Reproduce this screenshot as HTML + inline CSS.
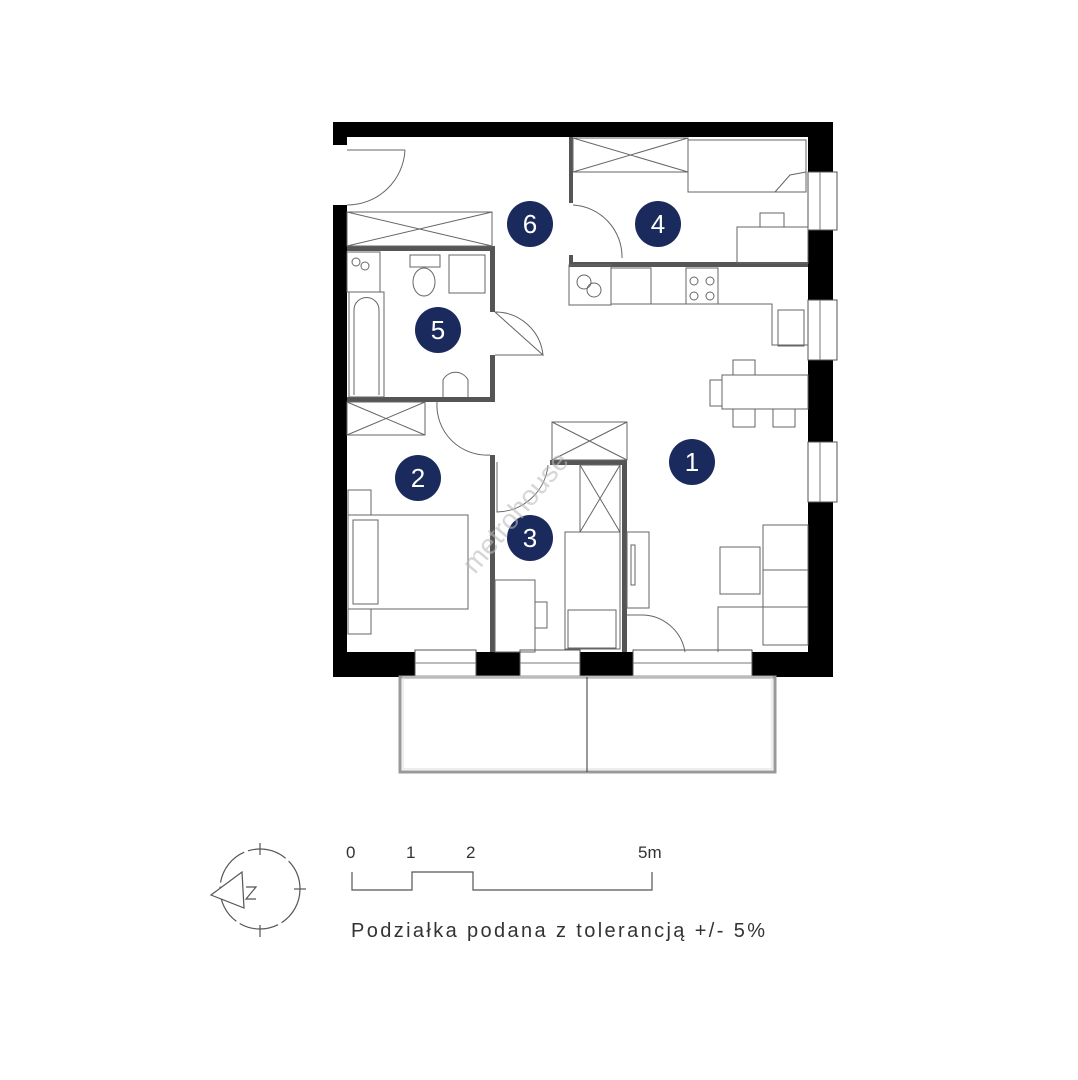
<!DOCTYPE html>
<html><head><meta charset="utf-8"><style>
html,body{margin:0;padding:0;background:#fff;}
svg{display:block}
text{font-family:"Liberation Sans",sans-serif;}
</style></head><body>
<svg width="1078" height="1080" viewBox="0 0 1078 1080" xmlns="http://www.w3.org/2000/svg">
<rect width="1078" height="1080" fill="#fff"/>
<g fill="#000">
<rect x="333" y="122" width="500" height="15"/>
<rect x="333" y="122" width="14" height="23"/>
<rect x="333" y="205" width="14" height="472"/>
<rect x="808" y="122" width="25" height="555"/>
<rect x="333" y="652" width="500" height="25"/>
</g>
<g fill="#fff" stroke="#555" stroke-width="1">
<rect x="808" y="172" width="29" height="58"/>
<rect x="808" y="300" width="29" height="60"/>
<rect x="808" y="442" width="29" height="60"/>
<rect x="415" y="650" width="61" height="28"/>
<rect x="520" y="650" width="60" height="28"/>
<rect x="633" y="650" width="119" height="28"/>
</g>
<g stroke="#777" stroke-width="1" fill="none">
<line x1="820" y1="172" x2="820" y2="230"/><line x1="820" y1="300" x2="820" y2="360"/><line x1="820" y1="442" x2="820" y2="502"/>
<line x1="415" y1="663" x2="476" y2="663"/><line x1="520" y1="663" x2="580" y2="663"/><line x1="633" y1="663" x2="752" y2="663"/>
<rect x="400" y="677" width="375" height="95" stroke="#999" stroke-width="3"/>
<rect x="403" y="677" width="369" height="92" stroke="#ddd" stroke-width="1"/>
<line x1="587" y1="677" x2="587" y2="772" stroke="#333"/>
</g>
<g fill="#555">
<rect x="347" y="246" width="148" height="5"/>
<rect x="490" y="246" width="5" height="66"/>
<rect x="490" y="355" width="5" height="47"/>
<rect x="347" y="397" width="148" height="5"/>
<rect x="569" y="137" width="4" height="66"/>
<rect x="569" y="255" width="4" height="10"/>
<rect x="569" y="262" width="239" height="5"/>
<rect x="490" y="455" width="5" height="197"/>
<rect x="550" y="460" width="77" height="5"/>
<rect x="622" y="460" width="5" height="192"/>
</g>
<g stroke="#666" stroke-width="1" fill="none">
<path d="M347 150 L405 150 M405 150 A58 58 0 0 1 347 205"/>
<rect x="347" y="212" width="145" height="34"/><path d="M347 212 L492 246 M492 212 L347 246"/>
<rect x="573" y="138" width="115" height="34"/><path d="M573 138 L688 172 M688 138 L573 172"/>
<rect x="688" y="140" width="118" height="52"/><path d="M775 192 L790 175 L806 172"/>
<rect x="737" y="227" width="71" height="36"/><rect x="760" y="213" width="24" height="14"/>
<path d="M573 205 A52 52 0 0 1 622 258 L622 258"/>
<rect x="569" y="265" width="42" height="40"/><circle cx="584" cy="282" r="7"/><circle cx="594" cy="290" r="7"/>
<rect x="611" y="268" width="40" height="36"/>
<rect x="686" y="268" width="32" height="36"/>
<circle cx="694" cy="281" r="4"/><circle cx="710" cy="281" r="4"/><circle cx="694" cy="296" r="4"/><circle cx="710" cy="296" r="4"/>
<path d="M611 304 L772 304 L772 345 L808 345"/>
<rect x="778" y="310" width="26" height="36"/>
<rect x="722" y="375" width="86" height="34"/><rect x="710" y="380" width="12" height="26"/>
<rect x="733" y="360" width="22" height="15"/><rect x="733" y="409" width="22" height="18"/><rect x="773" y="409" width="22" height="18"/>
<rect x="347" y="252" width="33" height="40"/><circle cx="356" cy="262" r="4"/><circle cx="365" cy="266" r="4"/>
<rect x="349" y="292" width="35" height="105"/><path d="M354 395 L354 310 A12 12 0 0 1 379 310 L379 395"/>
<rect x="410" y="255" width="30" height="12"/><ellipse cx="424" cy="282" rx="11" ry="14"/>
<rect x="449" y="255" width="36" height="38"/>
<path d="M443 397 L443 380 A14 14 0 0 1 468 380 L468 397"/>
<path d="M495 312 L543 355 A48 48 0 0 0 495 312 M495 355 L543 355"/>
<rect x="347" y="402" width="78" height="33"/><path d="M347 402 L425 435 M425 402 L347 435"/>
<path d="M437 402 A50 50 0 0 0 490 455"/>
<rect x="552" y="422" width="75" height="38"/><path d="M552 422 L627 460 M627 422 L552 460"/>
<path d="M497 462 L497 512 A52 52 0 0 0 548 465"/>
<rect x="580" y="465" width="40" height="67"/><path d="M580 465 L620 532 M620 465 L580 532"/>
<rect x="565" y="532" width="55" height="117"/><rect x="568" y="610" width="48" height="38"/>
<rect x="495" y="580" width="40" height="72"/><rect x="535" y="602" width="12" height="26"/>
<rect x="348" y="515" width="120" height="94"/><rect x="353" y="520" width="25" height="84"/>
<rect x="348" y="490" width="23" height="25"/><rect x="348" y="609" width="23" height="25"/>
<rect x="627" y="532" width="22" height="76"/><rect x="631" y="545" width="4" height="40"/>
<path d="M627 615 L640 615 A44 44 0 0 1 685 652"/>
<rect x="720" y="547" width="40" height="47"/>
<rect x="763" y="525" width="45" height="120"/><line x1="763" y1="570" x2="808" y2="570"/><line x1="763" y1="607" x2="808" y2="607"/>
<path d="M718 652 L718 607 L763 607"/>
</g>
<g font-size="26" fill="#fff" text-anchor="middle">
<circle cx="530" cy="224" r="23" fill="#1b2a5c"/><text x="530" y="233">6</text>
<circle cx="658" cy="224" r="23" fill="#1b2a5c"/><text x="658" y="233">4</text>
<circle cx="438" cy="330" r="23" fill="#1b2a5c"/><text x="438" y="339">5</text>
<circle cx="418" cy="478" r="23" fill="#1b2a5c"/><text x="418" y="487">2</text>
<circle cx="530" cy="538" r="23" fill="#1b2a5c"/><text x="530" y="547">3</text>
<circle cx="692" cy="462" r="23" fill="#1b2a5c"/><text x="692" y="471">1</text>
</g>
<text x="475" y="575" font-size="28" fill="#bbb" opacity="0.6" transform="rotate(-50 475 575)">metrohouse</text>
<g stroke="#555" stroke-width="1.2" fill="none">
<circle cx="260" cy="889" r="40" stroke-dasharray="40 4"/>
<line x1="260" y1="843" x2="260" y2="855"/><line x1="260" y1="925" x2="260" y2="937"/>
<line x1="294" y1="889" x2="306" y2="889"/>
<path d="M211 895 L242 872 L244 908 Z" fill="#fff"/>
<path d="M246 887 L256 887 L246 899 L256 899"/>
<path d="M352 872 L352 890 L412 890 L412 872 L473 872 L473 890 L652 890 L652 872"/>
</g>
<g font-size="17" fill="#333">
<text x="346" y="858">0</text><text x="406" y="858">1</text><text x="466" y="858">2</text><text x="638" y="858">5m</text>
<text x="351" y="937" font-size="20" textLength="414" lengthAdjust="spacing">Podziałka podana z tolerancją +/- 5%</text>
</g>
</svg>
</body></html>
